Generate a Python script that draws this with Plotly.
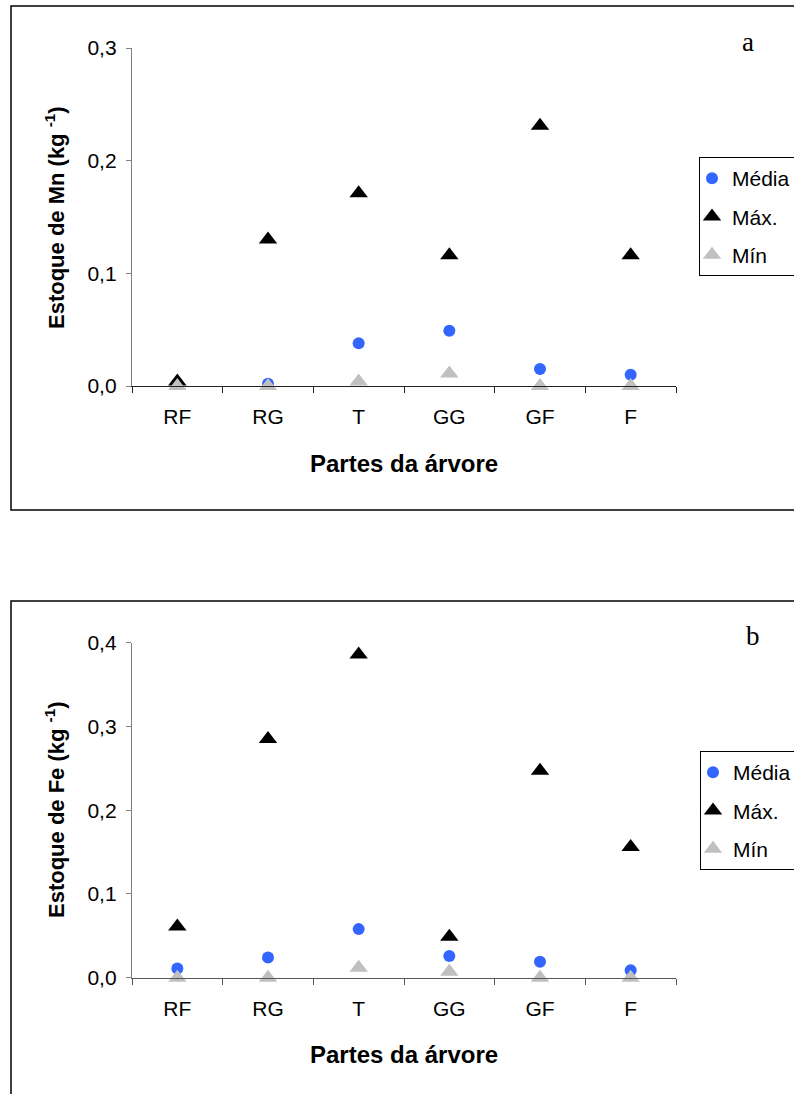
import plotly.graph_objects as go

categories = ["RF", "RG", "T", "GG", "GF", "F"]

mn_media = [0.002, 0.002, 0.038, 0.049, 0.015, 0.010]
mn_max = [0.004, 0.130, 0.171, 0.116, 0.231, 0.116]
mn_min = [0.000, 0.000, 0.004, 0.011, 0.000, 0.000]

fe_media = [0.011, 0.024, 0.058, 0.026, 0.019, 0.009]
fe_max = [0.061, 0.285, 0.386, 0.049, 0.247, 0.156]
fe_min = [0.000, 0.000, 0.012, 0.007, 0.000, 0.000]

series_names = ["Média", "Máx.", "Mín"]
series_colors = ["#3366FF", "#000000", "#C0C0C0"]
series_symbols = ["circle", "triangle-up", "triangle-up"]
series_sizes = [12, 16, 16]

W, H = 794, 1094
FONT = "Liberation Sans, Arial, sans-serif"


def px_x(p):
    return p / W


def px_y(p):
    return 1 - p / H


fig = go.Figure()

panels = [
    ("x", "y", "legend", [mn_media, mn_max, mn_min]),
    ("x2", "y2", "legend2", [fe_media, fe_max, fe_min]),
]
for xa, ya, leg, vals in panels:
    for i, v in enumerate(vals):
        fig.add_trace(go.Scatter(
            x=categories, y=v, mode="markers", name=series_names[i],
            xaxis=xa, yaxis=ya, legend=leg, legendgroup=leg + str(i),
            cliponaxis=False,
            marker=dict(symbol=series_symbols[i], color=series_colors[i],
                        size=series_sizes[i], line=dict(width=0)),
        ))

xdom = [px_x(132), px_x(676)]
common_x = dict(
    type="category", categoryorder="array", categoryarray=categories,
    range=[-0.5, len(categories) - 0.5],
    showline=True, linewidth=1.3, ticks="outside", tickson="boundaries",
    ticklen=6, tickwidth=1.3, showgrid=False, zeroline=False,
    tickfont=dict(family=FONT, size=21, color="#000"), fixedrange=True,
    ticklabelstandoff=12,
)
common_y = dict(
    showline=True, linewidth=1.3, linecolor="#808080", ticks="outside",
    ticklen=5, tickwidth=1.3, tickcolor="#808080", showgrid=False,
    zeroline=False, tickformat=".1f",
    tickfont=dict(family=FONT, size=21, color="#000"), ticklabelstandoff=5,
)

legend_common = dict(
    xanchor="left", yanchor="top",
    bordercolor="#000", borderwidth=1, bgcolor="white",
    font=dict(family=FONT, size=21, color="#000"),
    traceorder="grouped", tracegroupgap=8, itemwidth=30, indentation=-8,
)

fig.update_layout(
    width=W, height=H,
    margin=dict(l=0, r=0, t=0, b=0, autoexpand=False),
    paper_bgcolor="white", plot_bgcolor="white",
    separators=",.",
    xaxis=dict(domain=xdom, anchor="y", linecolor="#222", tickcolor="#222", **common_x),
    xaxis2=dict(domain=xdom, anchor="y2", linecolor="#555", tickcolor="#555", **common_x),
    yaxis=dict(domain=[px_y(386), px_y(48)], anchor="x", range=[0, 0.3],
               tickvals=[0, 0.1, 0.2, 0.3], **common_y),
    yaxis2=dict(domain=[px_y(977.7), px_y(642.7)], anchor="x2", range=[0, 0.4],
                tickvals=[0, 0.1, 0.2, 0.3, 0.4], **common_y),
    legend=dict(x=px_x(699), y=px_y(157), **legend_common),
    legend2=dict(x=px_x(700), y=px_y(751), **legend_common),
    showlegend=True,
)

# Panel borders
fig.add_shape(type="rect", xref="paper", yref="paper",
              x0=px_x(11), x1=1.05, y0=px_y(510), y1=px_y(6),
              line=dict(color="#000", width=1.5), layer="below")
fig.add_shape(type="rect", xref="paper", yref="paper",
              x0=px_x(11), x1=1.05, y0=-0.05, y1=px_y(601),
              line=dict(color="#000", width=1.5), layer="below")

ann = []
base = dict(xref="paper", yref="paper", showarrow=False, xanchor="center", yanchor="middle")
# Y titles
ann.append(dict(text="<b>Estoque de Mn (kg <sup>-1</sup>)</b>", x=px_x(55), y=px_y(218),
                textangle=-90, font=dict(family=FONT, size=22, color="#000"), **base))
ann.append(dict(text="<b>Estoque de Fe (kg <sup>-1</sup>)</b>", x=px_x(55), y=px_y(810),
                textangle=-90, font=dict(family=FONT, size=22, color="#000"), **base))
# X titles
for yy in (463, 1054):
    ann.append(dict(text="<b>Partes da árvore</b>", x=px_x(404), y=px_y(yy),
                    font=dict(family=FONT, size=24, color="#000"), **base))
# Panel letters
ann.append(dict(text="a", x=px_x(748), y=px_y(42),
                font=dict(family="Liberation Serif, Times New Roman, serif", size=27, color="#000"), **base))
ann.append(dict(text="b", x=px_x(753), y=px_y(636),
                font=dict(family="Liberation Serif, Times New Roman, serif", size=27, color="#000"), **base))
fig.update_layout(annotations=ann)

fig.write_html("out.html")
